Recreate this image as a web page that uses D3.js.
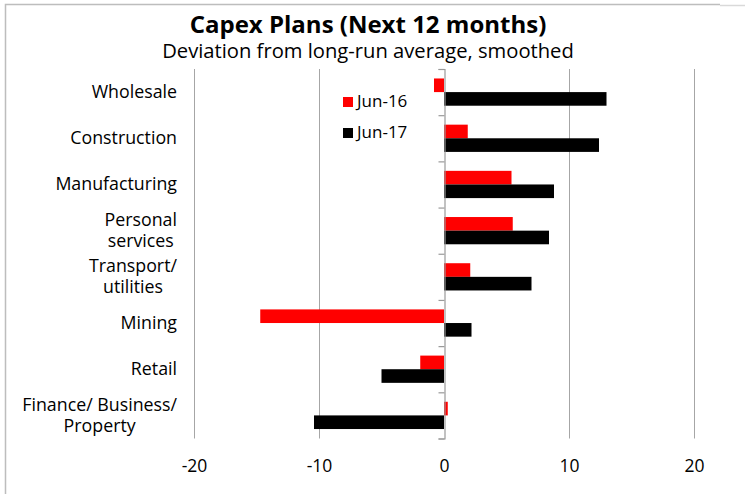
<!DOCTYPE html>
<html>
<head>
<meta charset="utf-8">
<script src="https://cdn.jsdelivr.net/npm/d3@7"></script>
<style>
  html, body { margin: 0; padding: 0; background: #fff; }
  svg { display: block; }
  text { font-family: "Open Sans", "Noto Sans", sans-serif; fill: #000; }
</style>
</head>
<body>
<svg id="chart" width="745" height="494"></svg>
<script>
// Sectors, top to bottom ("\n" marks a line break in the label)
const categories = [
  "Wholesale",
  "Construction",
  "Manufacturing",
  "Personal\nservices",
  "Transport/\nutilities",
  "Mining",
  "Retail",
  "Finance/ Business/\nProperty"
];
const seriesNames = ["Jun-16", "Jun-17"];
const jun16 = [-0.8, 1.9, 5.4, 5.5, 2.1, -14.7, -1.9, 0.3];
const jun17 = [13.0, 12.4, 8.8, 8.4, 7.0, 2.2, -5.0, -10.4];
const xTicks = [-20, -10, 0, 10, 20];
const seriesColors = ["#ff0000", "#000000"];

const titleText = "Capex Plans (Next 12 months)";
const subtitleText = "Deviation from long-run average, smoothed";

const svg = d3.select("#chart");

// Outer frame
svg.append("path")
  .attr("d", "M5.5,494 V4.5 H720")
  .attr("fill", "none").attr("stroke", "#bdbdbd").attr("stroke-width", 1.5);
svg.append("line")
  .attr("x1", 720).attr("x2", 745).attr("y1", 5.5).attr("y2", 5.5)
  .attr("stroke", "#d9d9d9").attr("stroke-width", 1.5);

// Scales
const x = d3.scaleLinear().domain([-20, 20]).range([194, 694]);
const y = d3.scaleBand().domain(categories).range([69, 438.5]).padding(0);
const ySub = d3.scaleBand().domain(seriesNames)
  .range([y.bandwidth() * 0.205, y.bandwidth() * 0.795]).padding(0);
const yIdx = d3.scaleLinear().domain([0, categories.length]).range(y.range());

// Vertical gridlines
svg.append("g").selectAll("line")
  .data(xTicks.filter(d => d !== 0))
  .join("line")
  .attr("x1", d => Math.round(x(d)) + 0.5).attr("x2", d => Math.round(x(d)) + 0.5)
  .attr("y1", y.range()[0]).attr("y2", y.range()[1])
  .attr("stroke", "#a6a6a6").attr("stroke-width", 1);

// Bars
const series = [jun16, jun17];
const barG = svg.append("g");
categories.forEach((c, i) => {
  series.forEach((vals, s) => {
    const v = vals[i];
    barG.append("rect")
      .attr("x", x(Math.min(0, v)))
      .attr("width", Math.abs(x(v) - x(0)))
      .attr("y", y(c) + ySub(seriesNames[s]))
      .attr("height", ySub.bandwidth())
      .attr("fill", seriesColors[s]);
  });
});

// Zero axis with ticks at category boundaries
const yAxis = svg.append("g")
  .attr("transform", `translate(${Math.round(x(0)) + 0.5},0)`)
  .call(d3.axisLeft(yIdx).tickValues(d3.range(categories.length + 1))
    .tickFormat("").tickSize(6).tickSizeOuter(6));
yAxis.selectAll("path, line").attr("stroke", "#9a9a9a").attr("stroke-width", 1.2);

// X tick labels (plain hyphen for negatives)
const xAxis = svg.append("g")
  .attr("transform", `translate(0,${y.range()[1]})`)
  .call(d3.axisBottom(x).tickValues(xTicks).tickSize(0).tickPadding(21.5)
    .tickFormat(d => String(d)));
xAxis.select(".domain").remove();
xAxis.selectAll("text")
  .style("font-family", "\"Open Sans\", sans-serif")
  .attr("font-size", 17.5).attr("fill", "#000");

// Category labels: each block right-aligned, lines centred within the block
const labelRight = 177;
const lineGap = 21;
const labG = svg.append("g").attr("font-size", 17.8);
categories.forEach(c => {
  const lines = c.split("\n");
  const cy = y(c) + y.bandwidth() / 2;
  const t = labG.append("text").attr("text-anchor", "middle");
  const spans = lines.map((ln, k) =>
    t.append("tspan").text(ln)
      .attr("y", cy + 6 - (lines.length - 1) * lineGap / 2 + k * lineGap));
  let maxW = 0;
  spans.forEach(sp => { maxW = Math.max(maxW, sp.node().getComputedTextLength()); });
  spans.forEach(sp => sp.attr("x", labelRight - maxW / 2));
});

// Legend
const legend = svg.append("g");
seriesNames.forEach((name, s) => {
  const ly = 97 + s * 31;
  legend.append("rect")
    .attr("x", 343).attr("y", ly).attr("width", 10).attr("height", 10)
    .attr("fill", seriesColors[s]);
  legend.append("text")
    .attr("x", 357).attr("y", ly + 10).attr("font-size", 17)
    .text(name);
});

// Title and subtitle
svg.append("text")
  .attr("x", 368).attr("y", 32.5).attr("text-anchor", "middle")
  .attr("font-size", 24).attr("font-weight", "bold")
  .text(titleText);
svg.append("text")
  .attr("x", 368).attr("y", 57.5).attr("text-anchor", "middle")
  .attr("font-size", 20.2)
  .text(subtitleText);
</script>
</body>
</html>
